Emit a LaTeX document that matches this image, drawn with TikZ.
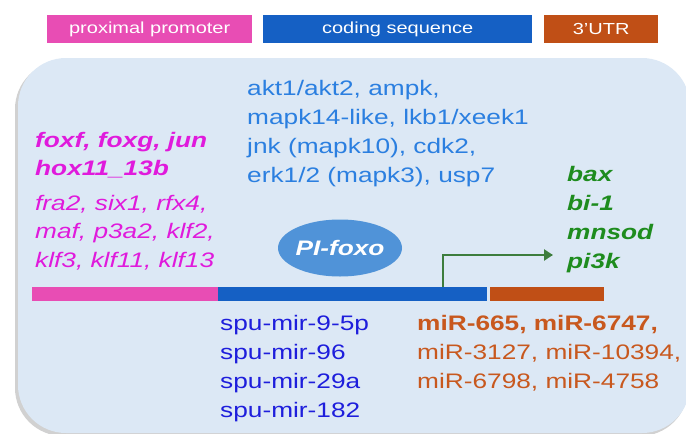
\documentclass[tikz,border=0pt]{standalone}
\usepackage{fontspec}
\setmainfont[FakeStretch=1.25]{Liberation Sans}
\usetikzlibrary{arrows.meta}
\definecolor{pinkc}{HTML}{E84DB4}
\definecolor{bluec}{HTML}{1560C4}
\definecolor{orangec}{HTML}{C04F16}
\definecolor{bgc}{HTML}{DCE8F5}
\definecolor{textblue}{HTML}{2B7FE0}
\definecolor{magc}{HTML}{E01ADC}
\definecolor{greenc}{HTML}{1E8C1E}
\definecolor{arrowc}{HTML}{3D7D3D}
\definecolor{spuc}{HTML}{1E1EDC}
\definecolor{mirc}{HTML}{C8581E}
\definecolor{ellc}{HTML}{5093D8}
\tikzset{
  legendbox/.style={anchor=north west, inner sep=0pt, minimum height=28pt, text=white,
    font=\fontsize{16}{19}\selectfont},
  barpart/.style={anchor=north west, inner sep=0pt, minimum height=14pt},
  genetext/.style={anchor=base west, inner sep=0pt, align=left,
    font=\fontsize{21}{29}\selectfont},
}
\begin{document}
\begin{tikzpicture}[x=1pt,y=-1pt]
\useasboundingbox (0,0) rectangle (686,434);
% background rounded panel with shadow
\fill[black!18, rounded corners=48pt] (15,61) rectangle (688,436);
\fill[bgc, rounded corners=48pt] (18,58) rectangle (690,433);
% legend
\node[legendbox, fill=pinkc, minimum width=205pt] (lprom) at (47,15) {proximal promoter};
\node[legendbox, fill=bluec, minimum width=269pt] (lcds) at (263,15) {coding sequence};
\node[legendbox, fill=orangec, minimum width=114pt] (lutr) at (544,15) {3'UTR};
% gene bar
\node[barpart, fill=pinkc, minimum width=186pt] (bprom) at (32,287) {};
\node[barpart, fill=bluec, minimum width=269pt] (bcds) at (218,287) {};
\node[barpart, fill=orangec, minimum width=114pt] (butr) at (490,287) {};
% texts (base anchor = baseline of the last line)
\node[genetext, text=textblue] (kin) at (247,182)
  {akt1/akt2, ampk,\\mapk14-like, lkb1/xeek1\\jnk (mapk10), cdk2,\\erk1/2 (mapk3), usp7};
\node[genetext, text=magc, font=\fontsize{21}{28}\selectfont\bfseries\itshape] (tf1) at (35,175)
  {foxf, foxg, jun\\hox11\_13b};
\node[genetext, text=magc, font=\fontsize{21}{28.5}\selectfont\itshape] (tf2) at (35,267)
  {fra2, six1, rfx4,\\maf, p3a2, klf2,\\klf3, klf11, klf13};
\node[genetext, text=greenc, font=\fontsize{21}{28.7}\selectfont\bfseries\itshape] (targ) at (567,268)
  {bax\\bi-1\\mnsod\\pi3k};
\node[genetext, text=spuc] (spu) at (220,417)
  {spu-mir-9-5p\\spu-mir-96\\spu-mir-29a\\spu-mir-182};
\node[genetext, text=mirc] (mir) at (417,388)
  {\textbf{miR-665, miR-6747,}\\miR-3127, miR-10394,\\miR-6798, miR-4758};
% PI-foxo ellipse
\fill[ellc] (340,248) ellipse [x radius=62pt, y radius=28.5pt];
\node[text=white, font=\fontsize{21}{25}\selectfont\bfseries\itshape] (foxo) at (340,248) {PI-foxo};
% transcription start arrow
\coordinate (tss) at (443,287);
\coordinate (arrend) at (553,255);
\draw[arrowc, line width=2.5pt, -{Triangle[length=9pt,width=11pt]}] (tss) |- (arrend);
\end{tikzpicture}
\end{document}
